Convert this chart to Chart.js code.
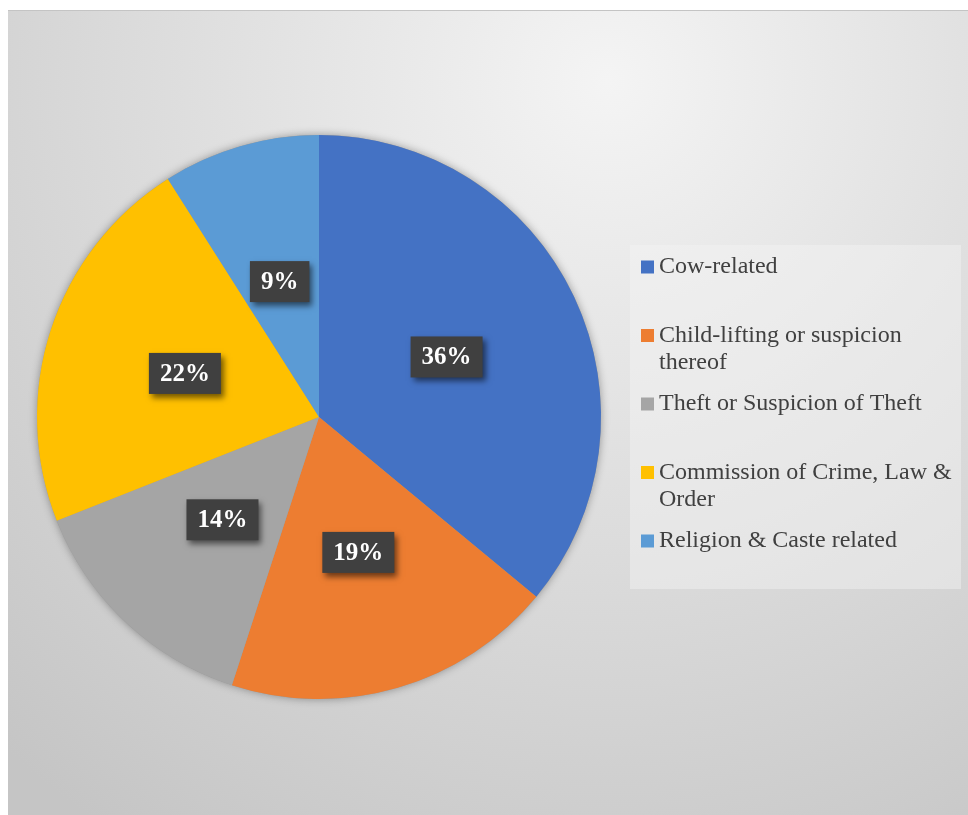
<!DOCTYPE html>
<html>
<head>
<meta charset="utf-8">
<script src="https://cdn.jsdelivr.net/npm/chart.js@4"></script>
<style>
  html, body { margin: 0; padding: 0; background: #fff; }
  .frame {
    position: absolute; left: 8px; top: 10px;
    width: 960px; height: 805px;
    border-top: 1px solid #c4c4c4;
  }
  canvas { display: block; }
</style>
</head>
<body>
<div class="frame"><canvas id="chart-lynching" width="960" height="805"></canvas></div>
<script>
const categories = [
  "Cow-related",
  "Child-lifting or suspicion thereof",
  "Theft or Suspicion of Theft",
  "Commission of Crime, Law & Order",
  "Religion & Caste related",
];
const shares = [36, 19, 14, 22, 9];
const sliceColors = ["#4472C4", "#ED7D31", "#A5A5A5", "#FFC000", "#5B9BD5"];

const SERIF = "'Liberation Serif', 'Times New Roman', serif";

// soft grey radial backdrop behind everything
const backdrop = {
  id: "backdrop",
  beforeDraw(chart) {
    const { ctx, width, height } = chart;
    const g = ctx.createRadialGradient(600, 70, 0, 600, 70, 900);
    g.addColorStop(0, "#f4f4f4");
    g.addColorStop(1, "#c5c5c5");
    ctx.save();
    ctx.fillStyle = g;
    ctx.fillRect(0, 0, width, height);
    ctx.restore();
  },
  beforeDatasetsDraw(chart) {
    const arc = chart.getDatasetMeta(0).data[0];
    if (!arc) return;
    const { ctx } = chart;
    ctx.save();
    ctx.shadowColor = "rgba(0,0,0,0.35)";
    ctx.shadowBlur = 8;
    ctx.fillStyle = "#999";
    ctx.beginPath();
    ctx.arc(arc.x, arc.y, arc.outerRadius, 0, Math.PI * 2);
    ctx.fill();
    ctx.restore();
  },
};

// dark percentage tags in the middle of each slice
const sliceTags = {
  id: "sliceTags",
  afterDatasetsDraw(chart) {
    const { ctx } = chart;
    ctx.save();
    ctx.font = "bold 25px " + SERIF;
    ctx.textAlign = "center";
    ctx.textBaseline = "middle";
    chart.getDatasetMeta(0).data.forEach((arc, i) => {
      const { x, y } = arc.tooltipPosition();
      const text = shares[i] + "%";
      const w = ctx.measureText(text).width + 22;
      const h = 41;
      ctx.save();
      ctx.shadowColor = "rgba(0,0,0,0.55)";
      ctx.shadowBlur = 6;
      ctx.shadowOffsetX = 3;
      ctx.shadowOffsetY = 4;
      ctx.fillStyle = "#404040";
      ctx.fillRect(x - w / 2, y - h / 2, w, h);
      ctx.restore();
      ctx.fillStyle = "#ffffff";
      ctx.fillText(text, x, y + 1);
    });
    ctx.restore();
  },
};

function wrapText(ctx, text, maxWidth) {
  const words = text.split(" ");
  const lines = [];
  let line = "";
  words.forEach((w) => {
    const test = line ? line + " " + w : w;
    if (line && ctx.measureText(test).width > maxWidth) {
      lines.push(line);
      line = w;
    } else {
      line = test;
    }
  });
  if (line) lines.push(line);
  return lines;
}

// legend panel on the right
const sideLegend = {
  id: "sideLegend",
  afterDraw(chart) {
    const { ctx } = chart;
    const box = { x: 622, y: 234, w: 331, h: 344 };
    ctx.save();
    ctx.fillStyle = "rgba(245,245,245,0.45)";
    ctx.fillRect(box.x, box.y, box.w, box.h);

    ctx.font = "24px " + SERIF;
    ctx.textBaseline = "middle";
    ctx.textAlign = "left";
    categories.forEach((label, i) => {
      const top = 256 + i * 68.5;
      ctx.fillStyle = sliceColors[i];
      ctx.fillRect(633, top - 6.5, 13, 13);
      ctx.fillStyle = "#404040";
      wrapText(ctx, label, 298).forEach((ln, j) => {
        ctx.fillText(ln, 651, top + j * 27);
      });
    });
    ctx.restore();
  },
};

new Chart(document.getElementById("chart-lynching"), {
  type: "pie",
  data: {
    labels: categories,
    datasets: [{
      data: shares,
      backgroundColor: sliceColors,
      borderWidth: 0,
    }],
  },
  options: {
    responsive: false,
    animation: false,
    layout: { padding: { left: 29, right: 367, top: 124, bottom: 117 } },
    plugins: {
      legend: { display: false },
      tooltip: { enabled: false },
    },
  },
  plugins: [backdrop, sliceTags, sideLegend],
});
</script>
</body>
</html>
